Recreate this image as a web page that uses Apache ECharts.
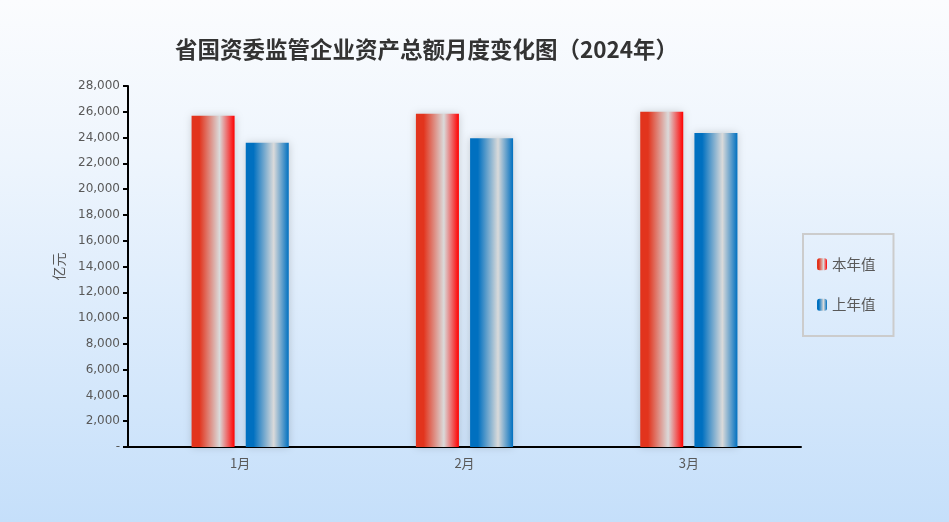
<!DOCTYPE html>
<html><head><meta charset="utf-8">
<script src="https://cdn.jsdelivr.net/npm/echarts@6/dist/echarts.min.js"></script>
<style>html,body{margin:0;padding:0;}#c{width:949px;height:522px;}</style>
</head><body><div id="c"></div>
<script>
const categories = ['1月', '2月', '3月'];
const thisYear = [25700, 25850, 26000];
const lastYear = [23600, 23950, 24350];
const seriesNames = ['本年值', '上年值'];
const titleText = '省国资委监管企业资产总额月度变化图（2024年）';
const unitName = '亿元';

function grad(c1, c2) {
  return new echarts.graphic.LinearGradient(0, 0, 1, 0, [
    {offset: 0, color: c1}, {offset: 0.18, color: c1},
    {offset: 0.65, color: '#dadada'}, {offset: 1, color: c2}
  ]);
}
const chart = echarts.init(document.getElementById('c'));
chart.setOption({
  animation: false,
  backgroundColor: new echarts.graphic.LinearGradient(0, 0, 0, 1, [
    {offset: 0, color: '#fbfcfe'}, {offset: 0.3, color: '#eef5fd'}, {offset: 1, color: '#c5dffa'}
  ]),
  title: {text: titleText, left: 170, top: 33,
    textStyle: {fontSize: 22.5, fontWeight: 'bold', color: '#333', fontFamily: 'Noto Sans CJK SC'}},
  legend: {orient: 'vertical', left: 803, top: 234, width: 60,
    padding: [23, 18, 24, 14], itemGap: 26, itemWidth: 10, itemHeight: 12,
    borderColor: '#cccccc', borderWidth: 2,
    textStyle: {fontSize: 14.5, color: '#595959', fontFamily: 'Noto Sans CJK SC'},
    data: seriesNames},
  grid: {left: 128, right: 148, top: 86, bottom: 75},
  xAxis: {type: 'category', data: categories,
    axisLine: {lineStyle: {color: '#000', width: 2}},
    axisTick: {length: 5, lineStyle: {color: '#000', width: 2}},
    axisLabel: {color: '#595959', fontSize: 13, margin: 10, fontFamily: 'Noto Sans CJK SC'}},
  yAxis: {type: 'value', min: 0, max: 28000, interval: 2000,
    name: unitName, nameLocation: 'middle', nameGap: 62, nameRotate: 90,
    nameTextStyle: {color: '#595959', fontSize: 14, fontFamily: 'Noto Sans CJK SC'},
    axisLine: {show: true, lineStyle: {color: '#000', width: 2}},
    axisTick: {show: true, length: 5, lineStyle: {color: '#000', width: 2}},
    splitLine: {show: false},
    axisLabel: {color: '#595959', fontSize: 12, margin: 8, fontFamily: 'DejaVu Sans',
      formatter: v => v === 0 ? '-' : v.toLocaleString('en-US')}},
  series: [
    {name: seriesNames[0], type: 'bar', data: thisYear, barWidth: 43, barGap: '26%',
     itemStyle: {color: grad('#e2341d', '#ff0000'), shadowBlur: 8, shadowColor: 'rgba(0,0,0,0.18)'}},
    {name: seriesNames[1], type: 'bar', data: lastYear, barWidth: 43,
     itemStyle: {color: grad('#0070c0', '#0070c0'), shadowBlur: 8, shadowColor: 'rgba(0,0,0,0.18)'}}
  ]
});
</script></body></html>
